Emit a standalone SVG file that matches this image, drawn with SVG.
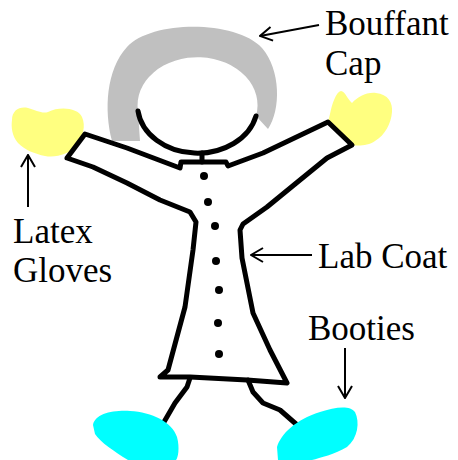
<svg xmlns="http://www.w3.org/2000/svg" width="458" height="460" viewBox="0 0 458 460">
  <style>
    .ink { fill: none; stroke: #000; stroke-width: 5; stroke-linejoin: round; stroke-linecap: round; }
    .lead { fill: none; stroke: #000; stroke-width: 2; }
    .label { font-family: "Liberation Serif", "Times New Roman", serif; font-size: 35px; fill: #000; }
    .cap { fill: #c0c0c0; }
    .glove { fill: #ffff80; }
    .bootie { fill: #00ffff; }
    .button { fill: #000; }
  </style>
  <defs>
    <marker id="arrow" viewBox="0 0 14 16" refX="13" refY="8" markerWidth="14" markerHeight="16" orient="auto" markerUnits="userSpaceOnUse">
      <path d="M1,1 L13,8 L1,15" fill="none" stroke="#000" stroke-width="2"/>
    </marker>
  </defs>
  <rect width="458" height="460" fill="#fff"/>

  <!-- hair cap around the head -->
  <g id="bouffant-cap">
    <path class="cap" d="M112,141 C104,110 106,70 127,47 C152,20 236,20 262,48 C281,70 281,110 268,129 L256,116 A60,48 0 1 0 138,111 L140,141 Z"/>
  </g>

  <!-- head -->
  <g id="head">
    <path class="ink" d="M138,111 A60,48 0 0 0 256,116"/>
    <path class="ink" d="M202,153 L202,162"/>
  </g>

  <!-- legs (drawn under the booties) -->
  <g id="legs">
    <path class="ink" d="M190,378 L187,387 L175,403 L164,422"/>
    <path class="ink" d="M248,380 L253,392 L263,403 L280,410 L296,424"/>
  </g>

  <!-- gloves -->
  <g id="left-glove">
    <path class="glove" d="M12,120 C12,110 20,106 28,108 C36,110 42,114 48,112 C60,106 78,108 82,117 C86,126 83,136 77,145 C70,154 56,158 45,156 C35,154 25,150 18,143 C12,136 11,127 12,120 Z"/>
  </g>
  <g id="right-glove">
    <path class="glove" d="M330,114 C332,104 336,92 341,91 C345,91 348,100 352,103 C358,97 366,92 376,93 C388,94 393,103 392,112 C391,124 385,135 375,141 C368,146 358,146 352,145 L328,122 Z"/>
  </g>

  <!-- lab coat with sleeves -->
  <g id="lab-coat">
    <path class="ink" d="M67,158 L85,134 L127,148 L180,168 L181,162 L226,162 L228,166 L263,153 L328,122 L352,145 L327,158 L300,180 L267,207 L243,224 L240,230 L242,258 L247,283 L253,313 L270,350 L287,383 L247,380 L190,377 L160,377 L168,370 L185,307 L193,250 L196,222 L190,212 L160,200 L127,183 L93,167 Z"/>
    <circle class="button" cx="204" cy="176" r="4"/>
    <circle class="button" cx="208" cy="202" r="4"/>
    <circle class="button" cx="215" cy="226" r="4"/>
    <circle class="button" cx="216" cy="261" r="4"/>
    <circle class="button" cx="219" cy="290" r="4"/>
    <circle class="button" cx="218" cy="323" r="4"/>
    <circle class="button" cx="219" cy="354" r="4"/>
  </g>

  <!-- booties -->
  <g id="left-bootie">
    <path class="bootie" d="M93,425 C95,414 112,410 130,411 C152,412 172,422 177,437 C180,448 178,458 176,460 L128,460 C115,452 100,442 95,434 Z"/>
  </g>
  <g id="right-bootie">
    <path class="bootie" d="M277,447 C281,434 295,420 320,412 C335,407 350,405 355,412 C360,422 358,438 347,447 C335,454 320,458 312,460 L278,460 Z"/>
  </g>

  <!-- labels -->
  <g id="label-cap">
    <text class="label" x="325" y="35">Bouffant</text>
    <text class="label" x="325" y="75">Cap</text>
  </g>
  <g id="label-gloves">
    <text class="label" x="13" y="243">Latex</text>
    <text class="label" x="13" y="282">Gloves</text>
  </g>
  <g id="label-coat">
    <text class="label" x="318" y="268">Lab Coat</text>
  </g>
  <g id="label-booties">
    <text class="label" x="308" y="340">Booties</text>
  </g>

  <!-- pointer arrows -->
  <g id="connectors">
    <line class="lead" x1="319" y1="25" x2="260" y2="36" marker-end="url(#arrow)"/>
    <line class="lead" x1="28" y1="207" x2="28" y2="155" marker-end="url(#arrow)"/>
    <line class="lead" x1="312" y1="255" x2="251" y2="255" marker-end="url(#arrow)"/>
    <line class="lead" x1="345" y1="348" x2="345" y2="398" marker-end="url(#arrow)"/>
  </g>
</svg>
